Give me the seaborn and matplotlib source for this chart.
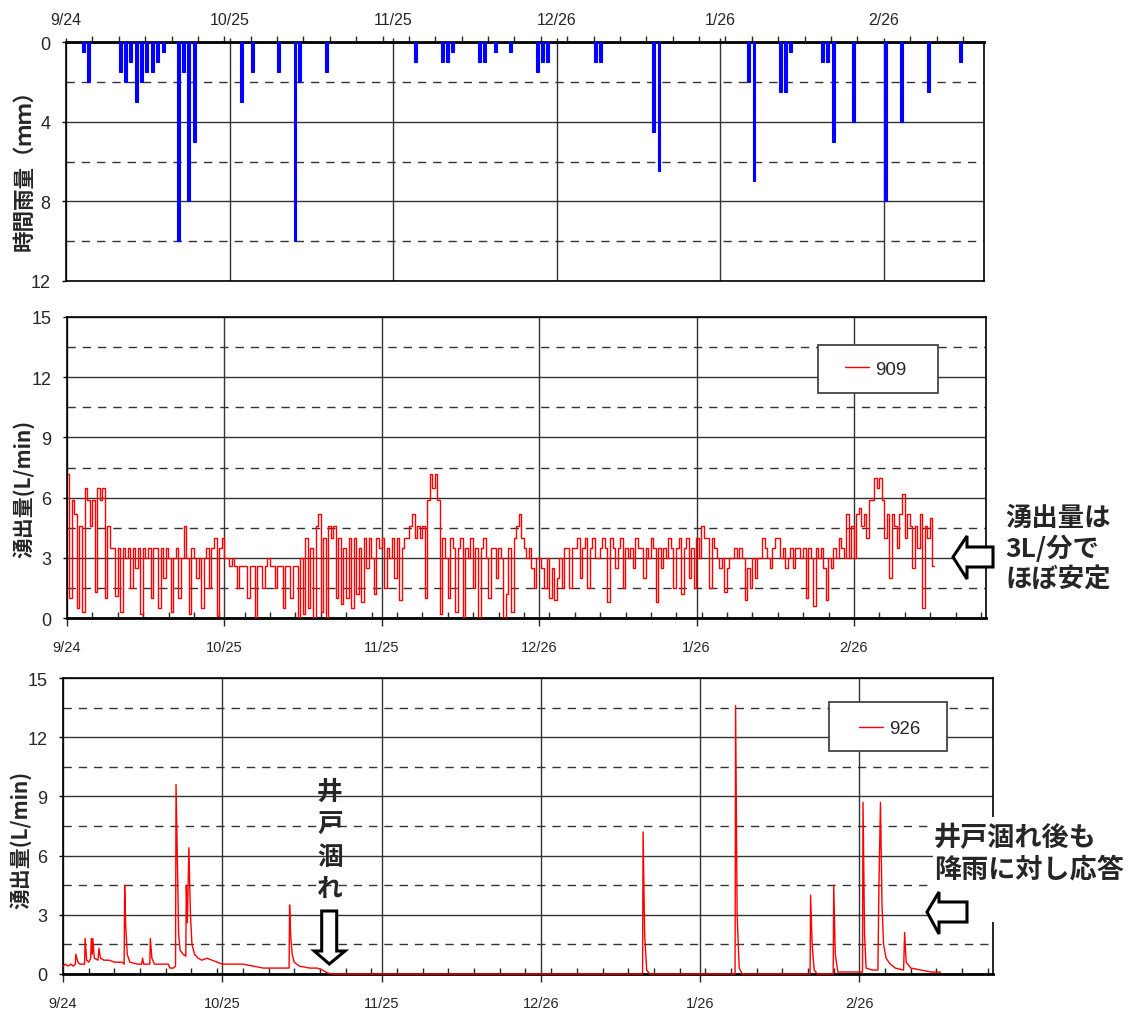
import numpy as np
import pandas as pd
import seaborn as sns
import matplotlib
matplotlib.use("Agg")
import matplotlib.pyplot as plt
from matplotlib.patches import Polygon, Rectangle
from matplotlib.ticker import MultipleLocator, FixedLocator

# ---------------- data ----------------
# x axis: days since 9/24
tick_days = [0, 31, 62, 93, 124, 155]
tick_labels = ['9/24', '10/25', '11/25', '12/26', '1/26', '2/26']

# hourly rainfall (mm)
rain_day = [3.3, 4.3, 10.4, 11.3, 12.3, 13.3, 14.3, 15.3, 16.4, 17.4, 18.4,
            21.4, 22.3, 23.3, 24.4, 33.3, 35.4, 40.3, 43.4, 44.3, 49.4,
            66.3, 71.3, 72.3, 73.3, 78.3, 79.4, 81.4, 84.3, 89.3, 90.4, 91.3,
            100.3, 101.3, 111.4, 112.4, 129.4, 130.4, 135.4, 136.4, 137.4,
            143.4, 144.4, 145.5, 149.3, 155.3, 158.4, 163.4, 169.5]
rain_mm = [0.5, 2.0, 1.5, 2.0, 1.0, 3.0, 2.0, 1.5, 1.5, 1.0, 0.5,
           10.0, 1.5, 8.0, 5.0, 3.0, 1.5, 1.5, 10.0, 2.0, 1.5,
           1.0, 1.0, 1.0, 0.5, 1.0, 1.0, 0.5, 0.5, 1.5, 1.0, 1.0,
           1.0, 1.0, 4.5, 6.5, 2.0, 7.0, 2.5, 2.5, 0.5,
           1.0, 1.0, 5.0, 4.0, 8.0, 4.0, 2.5, 1.0]

# well 909 discharge (L/min), one reading every half day from day 0.2
flow909_start = 0.2
flow909_step = 0.5
flow909 = [
    7.2, 1.0, 5.9, 5.2, 0.5, 4.6, 0.3, 6.5, 5.9, 4.6,
    5.9, 1.3, 6.5, 5.9, 6.5, 1.0, 4.6, 3.5, 3.5, 1.1,
    3.5, 0.3, 3.5, 3.0, 3.5, 1.5, 3.5, 2.5, 3.5, 0.2, 3.5, 3.0, 3.5, 1.0, 3.5, 3.5, 0.5, 3.5, 2.0, 3.5,
    3.0, 0.3, 3.0, 3.5, 1.0, 3.0, 4.6, 3.0, 0.2, 3.5, 3.0, 2.0, 3.0, 0.5, 3.0, 3.5, 1.5, 3.5, 4.0, 0.1,
    3.5, 4.0, 3.0, 3.0, 2.6, 3.0, 2.6, 1.5, 2.6, 2.6, 2.6, 1.0, 2.6, 2.6, 0.0, 2.6, 2.6, 1.5, 2.6, 3.0,
    2.6, 2.6, 1.5, 2.6, 2.6, 0.5, 2.6, 2.6, 1.0, 2.6, 2.6, 0.0,
    3.0, 0.2, 4.0, 0.5, 3.5, 0.0, 4.6, 5.2, 0.3, 4.0, 0.0, 4.6,
    4.0, 4.6, 1.0, 4.0, 0.7, 3.5, 1.0, 4.0, 0.5, 4.0, 1.2, 3.5, 0.8, 4.0, 2.5, 4.0,
    3.0, 1.2, 4.0, 3.5,
    4.0, 1.5, 3.5, 3.0, 4.0, 2.0, 4.0, 0.9, 3.5, 4.0,
    4.0, 4.6, 5.2, 4.0, 4.6, 4.0,
    4.6, 1.0, 5.9, 7.2, 6.5, 7.2, 5.9, 0.2, 4.0, 3.0,
    1.0, 4.0, 3.5, 0.3, 3.5, 4.0, 0.0, 3.5, 3.0, 4.0, 1.5, 3.5, 0.0, 3.5, 4.0, 3.0, 1.0, 3.5, 3.5, 2.0, 3.5, 3.0, 0.0, 1.2,
    3.5, 0.3, 4.0, 4.6, 5.2, 4.0, 3.5, 3.0, 3.5, 2.5, 1.5, 3.0,
    3.0, 2.5, 1.5, 3.0, 1.0, 2.5, 0.9, 2.0, 3.0, 1.5,
    3.5, 3.5, 1.5, 3.5, 3.5, 4.0, 2.0, 3.5, 4.0, 1.5, 3.5, 4.0, 3.0, 3.0, 3.5, 4.0, 3.5, 0.8, 4.0, 3.5, 2.5, 3.5,
    4.0, 1.5, 3.5, 3.0, 3.5, 2.5, 4.0, 3.5, 3.5, 2.0, 3.5, 3.0, 4.0, 3.5, 0.8, 3.5, 2.5, 3.5, 3.0, 4.0, 3.5, 1.5,
    3.5, 4.0, 1.2, 3.5, 4.0, 2.0, 3.5, 1.5, 4.0, 3.0,
    4.6, 4.0, 4.0, 1.5, 4.0, 3.5,
    3.0, 2.5, 3.0, 1.3, 2.5, 3.0,
    3.0, 3.5, 3.0, 3.5, 3.0, 0.9, 2.5, 1.5, 3.0, 2.0, 3.0, 3.0,
    4.0, 3.5, 3.0, 2.5, 3.5, 4.0, 4.0, 3.0, 3.5, 2.5,
    3.0, 3.5, 2.5, 3.5, 3.5, 3.0, 3.5, 1.0, 3.5, 3.0, 0.6, 3.5, 3.0, 3.5, 2.5, 0.9, 3.0, 2.5, 3.5, 3.0,
    4.0, 3.5, 3.0, 5.2, 3.0, 4.6, 3.0, 5.2,
    5.5, 4.6, 5.2, 4.0, 5.9, 5.9, 7.0, 6.5, 7.0, 5.9, 4.0, 5.2, 2.0,
    5.2, 4.6, 3.5, 5.2, 6.2, 4.0, 5.2, 4.6, 2.5, 4.6, 3.5, 5.2, 0.5, 4.6, 4.0, 5.0, 2.6,
]

# well 926 discharge (L/min)
flow926_day = [0.0, 0.5, 1.0, 1.5, 2.0, 2.4, 2.5, 2.9, 3.3, 4.2, 4.3, 4.6, 5.0, 5.4, 5.5, 5.7, 5.8,
               6.1, 6.8, 7.0, 7.3, 8.0, 9.0, 10.0, 11.5, 11.9, 12.0, 12.2, 12.5, 13.0, 14.5, 15.3,
               15.5, 15.7, 16.9, 17.0, 17.3, 17.8, 19.0, 20.5, 20.8, 21.5, 21.9, 22.0, 22.3, 22.5,
               22.8, 23.4, 23.9, 24.0, 24.2, 24.5, 24.8, 25.1, 25.6, 26.3, 27.0, 28.0, 29.0, 30.0,
               31.0, 33.0, 35.0, 37.0, 39.0, 41.0, 43.0, 44.0, 44.1, 44.3, 44.6, 45.0, 46.0, 48.0,
               49.5, 50.5, 51.5, 52.5, 112.8, 112.9, 113.2, 113.6, 114.2, 130.8, 130.9, 131.2,
               131.6, 132.2, 145.4, 145.5, 145.8, 146.2, 146.8, 149.9, 150.0, 150.3, 150.8, 155.6,
               155.7, 156.0, 156.3, 157.5, 158.6, 158.8, 159.1, 159.4, 159.7, 160.2, 161.0, 162.0,
               163.6, 163.8, 164.1, 165.0, 167.0, 169.0, 170.8]
flow926_val = [0.4, 0.5, 0.4, 0.5, 0.4, 0.5, 1.0, 0.6, 0.5, 0.5, 1.8, 0.7, 0.6, 0.8, 1.8, 1.0, 1.8,
               0.8, 0.7, 1.3, 0.8, 0.7, 0.7, 0.6, 0.6, 0.5, 4.5, 2.5, 1.0, 0.6, 0.5, 0.5,
               0.8, 0.5, 0.5, 1.8, 0.8, 0.5, 0.5, 0.5, 0.3, 0.3, 0.4, 9.6, 5.2, 2.0,
               1.2, 1.0, 0.9, 4.5, 2.6, 6.4, 3.0, 1.5, 1.0, 0.8, 0.7, 0.8, 0.7, 0.6,
               0.5, 0.5, 0.5, 0.4, 0.3, 0.3, 0.3, 0.3, 3.5, 2.0, 1.0, 0.6, 0.4, 0.3,
               0.3, 0.2, 0.05, 0.0, 0.0, 7.2, 2.0, 0.2, 0.0, 0.0, 13.6, 3.0,
               0.3, 0.0, 0.0, 4.0, 1.5, 0.2, 0.0, 0.0, 4.5, 1.0, 0.1, 0.1,
               8.7, 2.0, 0.3, 0.2, 0.2, 4.5, 8.7, 3.5, 1.5, 0.8, 0.5, 0.3,
               0.2, 2.1, 0.6, 0.3, 0.2, 0.1, 0.1]

# ---------------- style ----------------
sns.set_theme(style="white")
plt.rcParams['font.family'] = ['Liberation Sans Narrow', 'Liberation Sans', 'DejaVu Sans']
CJK = ['Noto Sans CJK JP', 'DejaVu Sans']
GRID = '#333333'
W, H = 1143, 1012

fig = plt.figure(figsize=(W / 100, H / 100), dpi=100)


def rect(l, t, r, b):
    return [l / W, 1 - b / H, (r - l) / W, (b - t) / H]


def fx(px):
    return px / W


def fy(py):
    return 1 - py / H


ax1 = fig.add_axes(rect(66, 43, 984, 282))
ax2 = fig.add_axes(rect(67, 318, 986, 619))
ax3 = fig.add_axes(rect(63, 679, 993, 975))


def style(ax, xmax, ymaj, ymin, top=False):
    ax.set_xlim(0, xmax)
    ax.xaxis.set_major_locator(FixedLocator(tick_days))
    ax.xaxis.set_minor_locator(MultipleLocator(5))
    ax.set_xticks(tick_days)
    ax.set_xticklabels(tick_labels)
    ax.yaxis.set_major_locator(MultipleLocator(ymaj))
    ax.yaxis.set_minor_locator(MultipleLocator(ymin))
    ax.grid(False)
    ax.xaxis.grid(True, which='major', color=GRID, lw=1.0, ls='-')
    ax.yaxis.grid(True, which='major', color=GRID, lw=1.0, ls='-')
    ax.yaxis.grid(True, which='minor', color=GRID, lw=1.0, ls=(0, (6, 5)))
    ax.set_axisbelow(True)
    for s in ax.spines.values():
        s.set_color('black')
        s.set_linewidth(1.2)
        s.set_visible(True)
    ax.tick_params(axis='y', which='major', length=3, width=1, color='black',
                   labelsize=13, pad=8, left=True, direction='out')
    ax.tick_params(axis='y', which='minor', length=0)
    if top:
        ax.xaxis.tick_top()
        ax.spines['top'].set_linewidth(2.0)
        ax.tick_params(axis='x', which='major', length=3, width=1, labelsize=11.5, pad=8,
                       direction='out', top=True, bottom=False)
        ax.tick_params(axis='x', which='minor', length=4, width=1, direction='out',
                       top=True, bottom=False)
    else:
        ax.spines['bottom'].set_linewidth(2.0)
        ax.tick_params(axis='x', which='major', length=6, width=1, labelsize=10.5, pad=10,
                       direction='out', bottom=True)
        ax.tick_params(axis='x', which='minor', length=4, width=1, direction='in', bottom=True)
    ax.set_xlabel('')
    ax.set_ylabel('')


# ---- top: rainfall ----
ax1.bar(rain_day, rain_mm, width=0.55, color='#0000FF', edgecolor='#0000FF',
        linewidth=0.8, align='center', zorder=3)
style(ax1, 174, 4, 2, top=True)
ax1.set_ylim(12, 0)

# ---- middle: 909 ----
df909 = pd.DataFrame({'day': flow909_start + flow909_step * np.arange(len(flow909)),
                      'flow': flow909})
sns.lineplot(data=df909, x='day', y='flow', ax=ax2, color='#FF0000', lw=1.0,
             label='909', estimator=None, zorder=3, drawstyle='steps-mid')
style(ax2, 181, 3, 1.5)
ax2.set_ylim(0, 15)

# ---- bottom: 926 ----
df926 = pd.DataFrame({'day': flow926_day, 'flow': flow926_val})
sns.lineplot(data=df926, x='day', y='flow', ax=ax3, color='#FF0000', lw=1.0,
             label='926', estimator=None, zorder=5, clip_on=False)
style(ax3, 181, 3, 1.5)
ax3.set_ylim(0, 15)

# legends: white frame + entry
for ax, box, ctr in [(ax2, (0.817, 0.748, 0.131, 0.159), (0.880, 0.827)),
                     (ax3, (0.824, 0.753, 0.126, 0.166), (0.889, 0.828))]:
    ax.add_patch(Rectangle(box[:2], box[2], box[3], transform=ax.transAxes,
                           facecolor='white', edgecolor='#444444', lw=1.3, zorder=6))
    leg = ax.legend(loc='center', bbox_to_anchor=ctr, frameon=False, fontsize=13.5,
                    handlelength=1.3, handletextpad=0.35, borderpad=0.2)
    leg.set_zorder(7)

# y labels
fig.text(fx(24), fy(165), '時間雨量（ｍｍ）', rotation=90, ha='center', va='center',
         fontsize=15.5, weight='bold', family=CJK)
fig.text(fx(24), fy(489), '湧出量(L/min)', rotation=90, ha='center', va='center',
         fontsize=15, weight='bold', family=CJK)
fig.text(fx(21), fy(840), '湧出量(L/min)', rotation=90, ha='center', va='center',
         fontsize=15, weight='bold', family=CJK)

# annotations
fig.patches.append(Rectangle((fx(933), fy(923)), (1140 - 933) / W, (923 - 818) / H,
                             transform=fig.transFigure, facecolor='white',
                             edgecolor='none', zorder=10))

fig.text(fx(1005), fy(505), '湧出量は\n3L/分で\nほぼ安定', ha='left', va='top',
         fontsize=19, weight='bold', family=CJK, linespacing=1.17, zorder=11)
fig.text(fx(330), fy(841), '井\n戸\n涸\nれ', ha='center', va='center',
         fontsize=18.5, weight='bold', family=CJK, linespacing=1.25, zorder=11)
fig.text(fx(934), fy(824), '井戸涸れ後も\n降雨に対し応答', ha='left', va='top',
         fontsize=19.5, weight='bold', family=CJK, linespacing=1.15, zorder=11)


def arrow(pts):
    poly = Polygon([(fx(x), fy(y)) for x, y in pts], closed=True, transform=fig.transFigure,
                   facecolor='white', edgecolor='black', lw=2.2, zorder=11, joinstyle='miter')
    fig.patches.append(poly)


arrow([(953, 558), (967, 537), (967, 548), (993, 548), (993, 568), (967, 568), (967, 580)])
arrow([(927, 913), (939, 893), (939, 903), (967, 903), (967, 923), (939, 923), (939, 935)])
arrow([(321.7, 912), (336.7, 912), (336.7, 952), (345, 952), (329.3, 965), (314.3, 952),
       (321.7, 952)])

fig.savefig('out.png', dpi=100)
